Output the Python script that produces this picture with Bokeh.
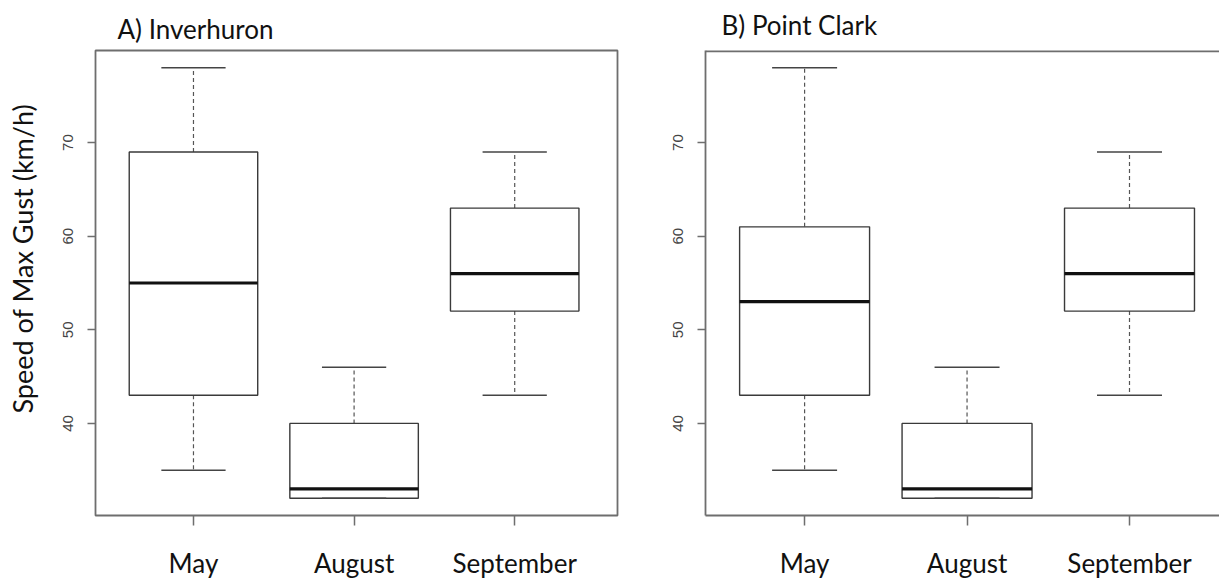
import numpy as np
from bokeh.plotting import figure
from bokeh.layouts import row
from bokeh.models import FixedTicker, Range1d, Span, Title
from bokeh.embed import file_html
from bokeh.resources import INLINE

months = ["May", "August", "September"]

# A) Inverhuron
inv_min = [35, 32, 43]
inv_q1 = [43, 32, 52]
inv_med = [55, 33, 56]
inv_q3 = [69, 40, 63]
inv_max = [78, 46, 69]

# B) Point Clark
pc_min = [35, 32, 43]
pc_q1 = [43, 32, 52]
pc_med = [53, 33, 56]
pc_q3 = [61, 40, 63]
pc_max = [78, 46, 69]

y_ticks = [40, 50, 60, 70]
y_label = "Speed of Max Gust (km/h)"

FRAME = "#6e6e6e"
BOXLINE = "#3a3a3a"
FONT = "Lato"

lo = min(inv_min + pc_min)
hi = max(inv_max + pc_max)
pad = 0.04 * (hi - lo)
Y_RANGE = (lo - pad, hi + pad)


def panel(title, mins, q1, med, q3, maxs, width, bl, br, x_end, title_offset,
          title_standoff, title_valign, full_frame):
    xs = np.arange(1, len(months) + 1, dtype=float)
    p = figure(width=width, height=581, output_backend="svg", toolbar_location=None,
               x_range=Range1d(0.39, x_end), y_range=Range1d(*Y_RANGE),
               min_border_left=bl, min_border_right=br, min_border_top=50,
               min_border_bottom=64)
    p.background_fill_color = "white"
    p.border_fill_color = "white"
    p.xgrid.visible = False
    p.ygrid.visible = False

    # whiskers (dashed)
    p.segment(x0=xs, x1=xs, y0=q3, y1=maxs, line_color="#555555", line_width=1.2,
              line_dash="4 3")
    p.segment(x0=xs, x1=xs, y0=q1, y1=mins, line_color="#555555", line_width=1.2,
              line_dash="4 3")
    # boxes
    p.vbar(x=xs, width=0.8, bottom=q1, top=q3, fill_color="white",
           line_color=BOXLINE, line_width=1.4)
    # caps
    p.segment(x0=xs - 0.2, x1=xs + 0.2, y0=maxs, y1=maxs, line_color="#444444",
              line_width=1.5)
    p.segment(x0=xs - 0.2, x1=xs + 0.2, y0=mins, y1=mins, line_color="#444444",
              line_width=1.5)
    # medians
    p.segment(x0=xs - 0.4, x1=xs + 0.4, y0=med, y1=med, line_color="#111111",
              line_width=3.2)

    # title
    p.title.text = title
    p.title.text_font = FONT
    p.title.text_font_size = "26px"
    p.title.text_font_style = "normal"
    p.title.text_color = "#111111"
    p.title.align = "left"
    p.title.vertical_align = title_valign
    p.title.offset = title_offset
    p.title.standoff = title_standoff

    # y axis
    ya = p.yaxis[0]
    ya.ticker = FixedTicker(ticks=y_ticks)
    ya.major_label_orientation = "vertical"
    ya.major_label_text_font = "Liberation Sans"
    ya.major_label_text_font_size = "15px"
    ya.major_label_text_color = "#444444"
    ya.major_tick_out = 8
    ya.major_tick_in = 0
    ya.major_tick_line_color = FRAME
    ya.major_tick_line_width = 1.5
    ya.minor_tick_line_color = None
    ya.major_label_standoff = 14

    # x axis
    xa = p.xaxis[0]
    xa.ticker = FixedTicker(ticks=list(xs))
    xa.major_label_overrides = {float(x): m for x, m in zip(xs, months)}
    xa.major_label_text_font = FONT
    xa.major_label_text_font_size = "26px"
    xa.major_label_text_color = "#111111"
    xa.major_tick_out = 10
    xa.major_tick_in = 0
    xa.major_tick_line_color = FRAME
    xa.major_tick_line_width = 1.5
    xa.minor_tick_line_color = None
    xa.major_label_standoff = 21

    if full_frame:
        p.outline_line_color = FRAME
        p.outline_line_width = 1.8
        ya.axis_line_color = None
        xa.axis_line_color = None
    else:
        p.outline_line_color = None
        ya.axis_line_color = FRAME
        ya.axis_line_width = 1.8
        xa.axis_line_color = FRAME
        xa.axis_line_width = 1.8
        p.add_layout(Span(location=Y_RANGE[1], dimension="width",
                          line_color=FRAME, line_width=3.6))
    return p


# narrow strip carrying the shared y-axis title
p0 = figure(width=40, height=581, output_backend="svg", toolbar_location=None,
            x_axis_location=None, y_axis_location=None,
            x_range=Range1d(0, 1), y_range=Range1d(0, 1),
            min_border_left=38, min_border_right=0, min_border_top=50,
            min_border_bottom=64)
p0.outline_line_color = None
p0.xgrid.visible = False
p0.ygrid.visible = False
p0.background_fill_color = "white"
p0.border_fill_color = "white"
p0.add_layout(Title(text=y_label, align="left", offset=102, vertical_align="bottom",
                    standoff=0, text_font=FONT, text_font_size="27px",
                    text_font_style="normal", text_color="#111111"), "left")

pa = panel("A) Inverhuron", inv_min, inv_q1, inv_med, inv_q3, inv_max,
           width=587, bl=55, br=10, x_end=3.64, title_offset=22, title_standoff=11,
           title_valign="bottom", full_frame=True)
pb = panel("B) Point Clark", pc_min, pc_q1, pc_med, pc_q3, pc_max,
           width=592, bl=78, br=0, x_end=3.554, title_offset=16, title_standoff=15,
           title_valign="top", full_frame=False)

layout = row(p0, pa, pb, spacing=0)
open("out.html", "w").write(file_html(layout, INLINE))
